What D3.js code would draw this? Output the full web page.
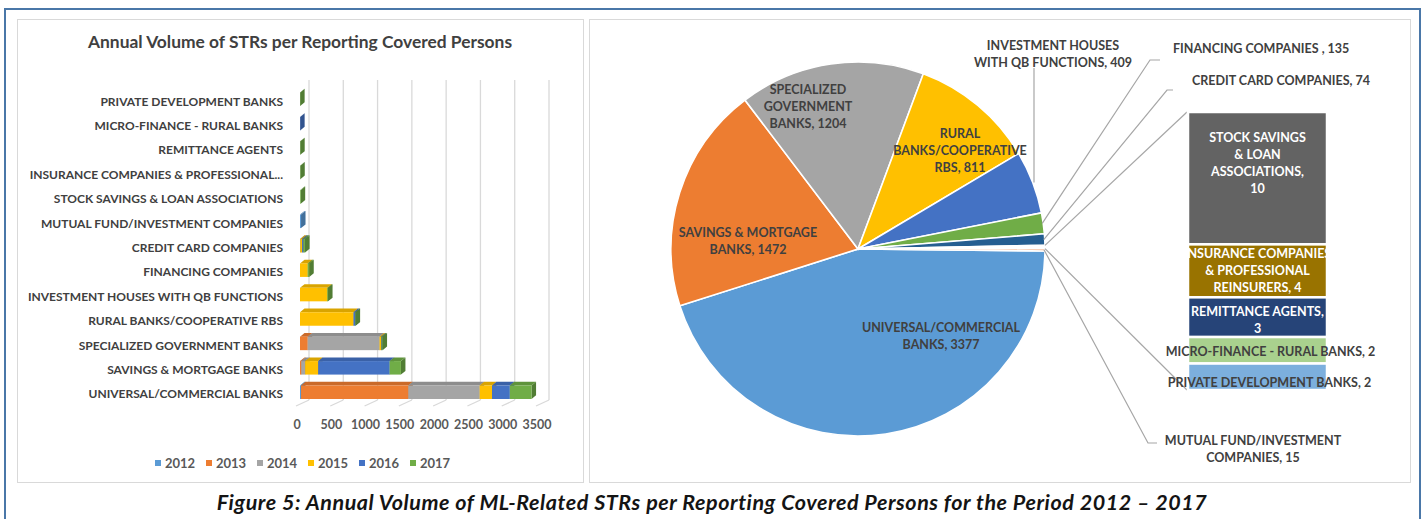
<!DOCTYPE html>
<html>
<head>
<meta charset="utf-8">
<script src="https://cdn.jsdelivr.net/npm/d3@7"></script>
<style>
  body { margin: 0; background: #fff; }
  text { font-family: Lato, "Open Sans", sans-serif; }
</style>
</head>
<body>
<svg id="fig" width="1424" height="519"></svg>
<script>
// bar chart categories, bottom row first
var categories = [
  "UNIVERSAL/COMMERCIAL BANKS",
  "SAVINGS & MORTGAGE BANKS",
  "SPECIALIZED GOVERNMENT BANKS",
  "RURAL BANKS/COOPERATIVE RBS",
  "INVESTMENT HOUSES WITH QB FUNCTIONS",
  "FINANCING COMPANIES ",
  "CREDIT CARD COMPANIES",
  "MUTUAL FUND/INVESTMENT COMPANIES",
  "STOCK SAVINGS & LOAN ASSOCIATIONS",
  "INSURANCE COMPANIES & PROFESSIONAL...",
  "REMITTANCE AGENTS",
  "MICRO-FINANCE - RURAL BANKS",
  "PRIVATE DEVELOPMENT BANKS"
];
var years = ["2012", "2013", "2014", "2015", "2016", "2017"];

// STRs per year, same order as categories
var v2012 = [15, 0, 0, 0, 0, 0, 0, 15, 0, 0, 0, 0, 0];
var v2013 = [1565, 20, 112, 0, 0, 0, 0, 0, 0, 0, 0, 0, 0];
var v2014 = [1040, 55, 1048, 0, 0, 0, 5, 0, 0, 0, 0, 0, 0];
var v2015 = [180, 190, 22, 780, 398, 112, 25, 0, 0, 0, 0, 0, 0];
var v2016 = [260, 1042, 8, 25, 0, 0, 20, 0, 0, 0, 0, 2, 0];
var v2017 = [317, 165, 14, 6, 11, 23, 24, 0, 10, 4, 3, 0, 2];
var xTicks = [0, 500, 1000, 1500, 2000, 2500, 3000, 3500];

// pie labels ({v} = total), same order as categories
var pieLabelLines = [
  ["UNIVERSAL/COMMERCIAL", "BANKS, {v}"],
  ["SAVINGS & MORTGAGE", "BANKS, {v}"],
  ["SPECIALIZED", "GOVERNMENT", "BANKS, {v}"],
  ["RURAL", "BANKS/COOPERATIVE", "RBS, {v}"],
  ["INVESTMENT HOUSES", "WITH QB FUNCTIONS, {v}"],
  ["FINANCING COMPANIES , {v}"],
  ["CREDIT CARD COMPANIES, {v}"],
  ["MUTUAL FUND/INVESTMENT", "COMPANIES, {v}"],
  ["STOCK SAVINGS", "& LOAN", "ASSOCIATIONS,", "{v}"],
  ["INSURANCE COMPANIES", "& PROFESSIONAL", "REINSURERS, {v}"],
  ["REMITTANCE AGENTS,", "{v}"],
  ["MICRO-FINANCE - RURAL BANKS, {v}"],
  ["PRIVATE DEVELOPMENT BANKS, {v}"]
];
var secondPlotCount = 5;   // last five categories go to the bar of pie

var yearColors = ["#5b9bd5", "#ed7d31", "#a5a5a5", "#ffc000", "#4472c4", "#70ad47"];
var pieColors = ["#5b9bd5", "#ed7d31", "#a5a5a5", "#ffc000", "#4472c4", "#70ad47",
                 "#255e91", "#f0a070", "#636363", "#997300", "#264478", "#a9d18e", "#7cafdd"];

var svg = d3.select("#fig");

// frames
svg.append("rect").attr("x", 5).attr("y", 9).attr("width", 1415).attr("height", 530)
  .attr("fill", "none").attr("stroke", "#4a77a8").attr("stroke-width", 2);
svg.append("rect").attr("x", 17.5).attr("y", 19.5).attr("width", 566).attr("height", 463)
  .attr("fill", "#fff").attr("stroke", "#d9d9d9");
svg.append("rect").attr("x", 589.5).attr("y", 19.5).attr("width", 821).attr("height", 463)
  .attr("fill", "#fff").attr("stroke", "#d9d9d9");

// caption
svg.append("text")
  .attr("x", 712).attr("y", 510)
  .attr("text-anchor", "middle")
  .attr("font-size", 21.5).attr("font-weight", 700).attr("font-style", "italic")
  .attr("letter-spacing", 0.55)
  .attr("fill", "#141414")
  .text("Figure 5: Annual Volume of ML-Related STRs per Reporting Covered Persons for the Period 2012 \u2013 2017");

// ---------- left: 3D stacked bars ----------
var rows = categories.map(function(c, i) {
  return { cat: c, "2012": v2012[i], "2013": v2013[i], "2014": v2014[i],
           "2015": v2015[i], "2016": v2016[i], "2017": v2017[i] };
});
var totals = rows.map(function(r) { return d3.sum(years, function(k) { return r[k]; }); });

var x = d3.scaleLinear().domain([0, 3500]).range([300, 540]);
var y = d3.scaleBand().domain(categories).range([406.2, 88.8]);
var color = d3.scaleOrdinal().domain(years).range(yearColors);
var depthX = 4.5, depthY = 3.7, gridShift = 9;

var chart = svg.append("g");

chart.append("text")
  .attr("x", 300).attr("y", 48)
  .attr("text-anchor", "middle")
  .attr("font-size", 17.4).attr("font-weight", 700)
  .attr("fill", "#404040")
  .text("Annual  Volume of STRs per Reporting Covered Persons");

// back wall gridlines and floor ticks
chart.selectAll(".grid").data(xTicks).join("line")
  .attr("x1", d => x(d) + gridShift).attr("x2", d => x(d) + gridShift)
  .attr("y1", 80).attr("y2", 400)
  .attr("stroke", "#d9d9d9").attr("stroke-width", 1.3);
chart.selectAll(".floor").data(xTicks).join("line")
  .attr("x1", d => x(d) - 4).attr("y1", 406)
  .attr("x2", d => x(d) + gridShift).attr("y2", 400)
  .attr("stroke", "#d9d9d9").attr("stroke-width", 1.3);
chart.selectAll(".tick").data(xTicks).join("text")
  .attr("x", d => x(d) - 3).attr("y", 429)
  .attr("text-anchor", "middle")
  .attr("font-size", 12.5).attr("font-weight", 700)
  .attr("fill", "#595959")
  .text(d => d);

// category labels
chart.selectAll(".cat").data(categories).join("text")
  .attr("x", 283).attr("y", d => y(d) + y.bandwidth() / 2 + 4.5)
  .attr("text-anchor", "end")
  .attr("font-size", 12).attr("font-weight", 700)
  .attr("fill", "#404040")
  .text(d => d);

var stacked = d3.stack().keys(years)(rows);
var segs = [];
rows.forEach(function(r, i) {
  stacked.forEach(function(layer) {
    var s = layer[i];
    if (s[1] > s[0]) segs.push({ cat: r.cat, year: layer.key, v0: s[0], v1: s[1] });
  });
});

var segG = chart.selectAll(".seg").data(segs).join("g");
function frontTop(d) { return y(d.cat) + y.bandwidth() / 2 - 8.5; }
var barH = 13.5;
segG.append("path")
  .attr("d", function(d) {
    var x1 = x(d.v1), t = frontTop(d);
    return "M" + x1 + "," + (t + barH) + "L" + x1 + "," + t +
      "L" + (x1 + depthX) + "," + (t - depthY) + "L" + (x1 + depthX) + "," + (t + barH - depthY) + "Z";
  })
  .attr("fill", d => d3.color(color(d.year)).darker(0.9));
segG.append("path")
  .attr("d", function(d) {
    var x0 = x(d.v0), x1 = x(d.v1), t = frontTop(d);
    return "M" + x0 + "," + t + "L" + x1 + "," + t +
      "L" + (x1 + depthX) + "," + (t - depthY) + "L" + (x0 + depthX) + "," + (t - depthY) + "Z";
  })
  .attr("fill", d => d3.color(color(d.year)).darker(0.45));
segG.append("rect")
  .attr("x", d => x(d.v0)).attr("y", d => frontTop(d))
  .attr("width", d => x(d.v1) - x(d.v0)).attr("height", barH)
  .attr("fill", d => color(d.year));

// legend
var legend = chart.selectAll(".leg").data(years).join("g")
  .attr("transform", (d, i) => "translate(" + (155 + i * 51) + ",460)");
legend.append("rect").attr("width", 6).attr("height", 6).attr("fill", d => color(d));
legend.append("text").attr("x", 10).attr("y", 7.5)
  .attr("font-size", 13).attr("font-weight", 700).attr("fill", "#595959")
  .text(d => d);

// ---------- right: bar of pie ----------
var firstCount = categories.length - secondPlotCount;
var otherTotal = d3.sum(totals.slice(firstCount));
function labelText(i) {
  return pieLabelLines[i].map(l => l.replace("{v}", totals[i]));
}
var pieData = [];
for (var i = 0; i < firstCount; i++) {
  pieData.push({ idx: i, value: totals[i], color: pieColors[i] });
}
// "other" sits between credit cards and mutual funds, facing the bar
pieData.splice(firstCount - 1, 0, { idx: -1, value: otherTotal, color: "#ffffff" });

var cx = 858, cy = 249, R = 187;
var a0 = (90 + 0.6) * Math.PI / 180;
var pie = d3.pie().sort(null).value(d => d.value).startAngle(a0).endAngle(a0 + 2 * Math.PI);
var arcs = pie(pieData);
var arc = d3.arc().innerRadius(0).outerRadius(R);
function edge(a, r) { return [cx + r * Math.sin(a), cy - r * Math.cos(a)]; }

var pg = svg.append("g");
pg.selectAll(".slice").data(arcs).join("path")
  .attr("transform", "translate(" + cx + "," + cy + ")")
  .attr("d", arc)
  .attr("fill", d => d.data.color)
  .attr("stroke", "#fff").attr("stroke-width", 1.6);

// label layout: offsets from pie centre, optional leader elbow
var pieLabelLayout = {
  0: { dx: 83, dy: 87, anchor: "middle" },
  1: { dx: -110, dy: -8, anchor: "middle" },
  2: { dx: -50, dy: -143, anchor: "middle" },
  3: { dx: 102, dy: -99, anchor: "middle" },
  4: { dx: 195, dy: -195, anchor: "middle", leader: [[176, -181]] },
  5: { dx: 315, dy: -201, anchor: "start", leader: [[292, -189], [302, -189]] },
  6: { dx: 334, dy: -169, anchor: "start", leader: [[309, -159], [315, -159]] },
  7: { dx: 395, dy: 200, anchor: "middle", leader: [[290, 194], [299, 194]] }
};
var lineGap = 17;

arcs.forEach(function(a) {
  var i = a.data.idx;
  if (i < 0) return;
  var lay = pieLabelLayout[i];
  var lines = labelText(i);
  var mid = (a.startAngle + a.endAngle) / 2;
  if (lay.leader) {
    var p = edge(mid, R - 1);
    if (i === 4) p = [cx + lay.leader[0][0], p[1]];
    var pts = [p].concat(lay.leader.map(q => [cx + q[0], cy + q[1]]));
    pg.append("path")
      .attr("d", d3.line()(pts))
      .attr("fill", "none").attr("stroke", "#a6a6a6").attr("stroke-width", 1.2);
  }
  var t = pg.append("text")
    .attr("text-anchor", lay.anchor)
    .attr("font-size", 12.5).attr("font-weight", 700).attr("fill", "#404040");
  lines.forEach(function(l, k) {
    t.append("tspan")
      .attr("x", cx + lay.dx)
      .attr("y", cy + lay.dy + (k - (lines.length - 1) / 2) * lineGap + 4.5)
      .text(l);
  });
});

// second plot: stacked column
var second = d3.range(firstCount, categories.length).map(i => ({ idx: i, value: totals[i] }));
var yb = d3.scaleLinear().domain([0, otherTotal]).range([112, 390]);
var bx0 = 1188, bx1 = 1327;
var cum = 0;
second.forEach(function(d) { d.c0 = cum; cum += d.value; d.c1 = cum; });

var otherArc = arcs.find(a => a.data.idx === -1);
var pA = edge(otherArc.startAngle, R), pB = edge(otherArc.endAngle, R);
var pTop = pA[1] < pB[1] ? pA : pB, pBot = pA[1] < pB[1] ? pB : pA;
pg.append("line").attr("x1", pTop[0]).attr("y1", pTop[1]).attr("x2", bx0 - 1).attr("y2", yb(0))
  .attr("stroke", "#a6a6a6").attr("stroke-width", 1.2);
pg.append("line").attr("x1", pBot[0]).attr("y1", pBot[1]).attr("x2", bx0 - 1).attr("y2", yb(otherTotal))
  .attr("stroke", "#a6a6a6").attr("stroke-width", 1.2);

pg.selectAll(".col").data(second).join("rect")
  .attr("x", bx0).attr("width", bx1 - bx0)
  .attr("y", d => yb(d.c0)).attr("height", d => yb(d.c1) - yb(d.c0))
  .attr("fill", d => pieColors[d.idx])
  .attr("stroke", "#fff").attr("stroke-width", 2.5);

var colLabelLayout = {
  8: { dx: 0, dy: -15, fill: "#ffffff" },
  9: { dx: 0, dy: 0, fill: "#ffffff" },
  10: { dx: 0, dy: 3, fill: "#ffffff" },
  11: { dx: 13, dy: 1, fill: "#404040" },
  12: { dx: 12, dy: 6, fill: "#404040" }
};
second.forEach(function(d) {
  var lay = colLabelLayout[d.idx];
  var lines = labelText(d.idx);
  var mx = (bx0 + bx1) / 2 + lay.dx;
  var my = (yb(d.c0) + yb(d.c1)) / 2 + lay.dy;
  var t = pg.append("text")
    .attr("text-anchor", "middle")
    .attr("font-size", 12.5).attr("font-weight", 700).attr("fill", lay.fill);
  lines.forEach(function(l, k) {
    t.append("tspan")
      .attr("x", mx)
      .attr("y", my + (k - (lines.length - 1) / 2) * lineGap + 4.5)
      .text(l);
  });
});
</script>
</body>
</html>
